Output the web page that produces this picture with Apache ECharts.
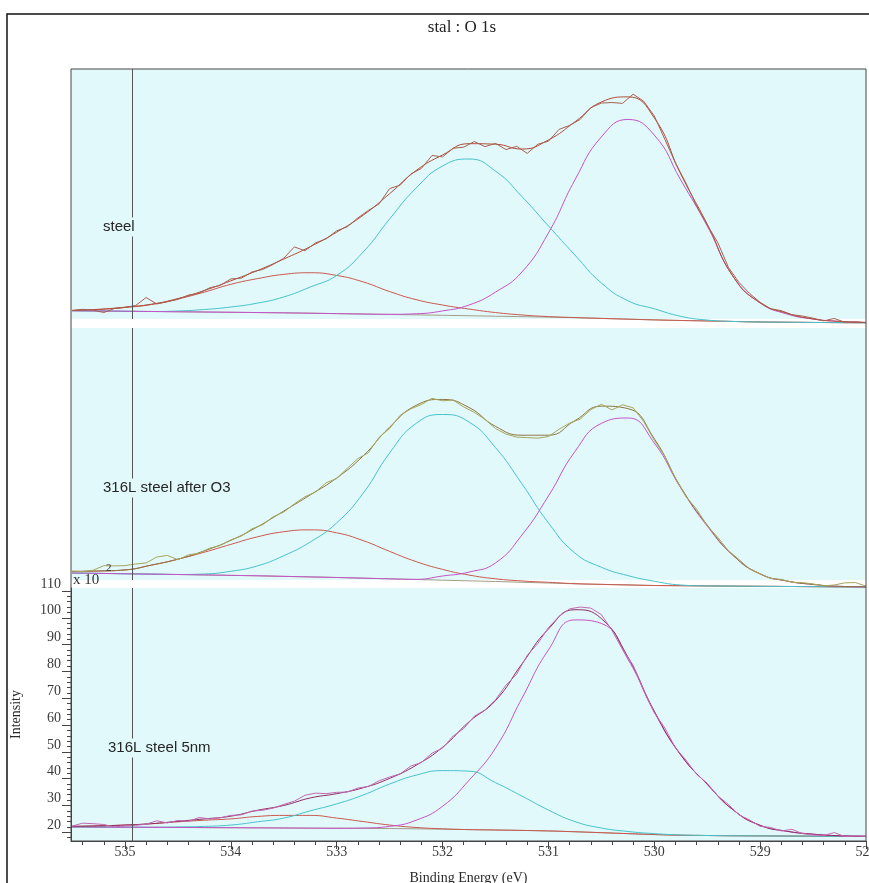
<!DOCTYPE html>
<html>
<head>
<meta charset="utf-8">
<title>stal : O 1s</title>
<script src="https://cdn.jsdelivr.net/npm/echarts@6.0.0/dist/echarts.min.js"></script>
<style>
  html, body { margin: 0; padding: 0; background: #fff; }
  #xps { width: 869px; height: 883px; }
</style>
</head>
<body>
<div id="xps"></div>
<script>
// binding energy grids (eV)
const rawBE = [535.5, 535.4, 535.3, 535.2, 535.1, 535.0, 534.9, 534.8, 534.7, 534.6,
  534.5, 534.4, 534.3, 534.2, 534.1, 534.0, 533.9, 533.8, 533.7, 533.6,
  533.5, 533.4, 533.3, 533.2, 533.1, 533.0, 532.9, 532.8, 532.7, 532.6,
  532.5, 532.4, 532.3, 532.2, 532.1, 532.0, 531.9, 531.8, 531.7, 531.6,
  531.5, 531.4, 531.3, 531.2, 531.1, 531.0, 530.9, 530.8, 530.7, 530.6,
  530.5, 530.4, 530.3, 530.2, 530.1, 530.0, 529.9, 529.8, 529.7, 529.6,
  529.5, 529.4, 529.3, 529.2, 529.1, 529.0, 528.9, 528.8, 528.7, 528.6,
  528.5, 528.4, 528.3, 528.2, 528.1, 528.0];
const fitBE = [535.5, 535.25, 535.0, 534.75, 534.5, 534.25, 534.0, 533.75, 533.5, 533.25,
  533.0, 532.75, 532.5, 532.25, 532.0, 531.75, 531.5, 531.25, 531.0, 530.75,
  530.5, 530.25, 530.0, 529.75, 529.5, 529.25, 529.0, 528.75, 528.5, 528.25, 528.0];

// steel (top panel)
const steelRaw = [3.2, 3.6, 3.3, 2.4, 3.9, 4.3, 5.0, 8.0, 5.6, 6.4,
  7.3, 8.9, 9.6, 11.6, 12.5, 14.9, 15.2, 17.5, 18.4, 20.3,
  22.6, 26.8, 25.4, 28.3, 29.8, 32.8, 34.3, 37.6, 40.4, 42.8,
  48.5, 49.8, 53.9, 56.0, 60.8, 60.3, 63.5, 63.9, 66.0, 64.1,
  65.3, 63.0, 64.2, 61.6, 65.0, 66.1, 70.5, 72.0, 74.2, 78.6,
  80.3, 80.5, 80.2, 83.6, 81.0, 75.5, 66.8, 58.0, 50.5, 42.0,
  35.0, 28.4, 19.2, 13.6, 9.5, 6.2, 3.8, 3.1, 1.6, 1.1,
  0.3, -0.7, 0.2, -1.2, -1.0, -1.3];
const steelFit = [3.16, 3.6, 4.4, 5.5, 7.6, 10.6, 14.2, 18.0, 22.3, 26.9,
  32.3, 38.6, 46.6, 55.2, 61.0, 65.2, 65.0, 63.2, 66.6, 73.3,
  80.7, 82.6, 74.8, 53.9, 35.3, 15.5, 6.0, 2.2, 0.0, -0.9, -1.3];
const steelPk1 = [3.16, 3.53, 4.28, 5.39, 7.44, 10.0, 12.9, 15.0, 16.6, 17.2,
  16.2, 13.8, 10.2, 7.2, 5.2, 3.7, 2.4, 1.5, 0.9, 0.55,
  0.22, -0.06, -0.33, -0.55, -0.73, -0.92, -1.1, -1.2, -1.28, -1.35, -1.4];
const steelPk2 = [3.07, 2.98, 2.88, 2.79, 2.98, 3.53, 4.46, 5.9, 8.2, 11.9,
  16.2, 24.9, 37.2, 48.7, 56.9, 59.5, 55.0, 45.5, 34.6, 23.8,
  13.4, 6.8, 3.8, 1.0, -0.4, -0.92, -1.1, -1.2, -1.28, -1.35, -1.4];
const steelPk3 = [3.07, 2.98, 2.88, 2.79, 2.69, 2.6, 2.5, 2.4, 2.29, 2.15,
  2.0, 1.85, 1.75, 1.95, 3.0, 5.2, 10.0, 17.5, 32.0, 51.7,
  67.7, 74.2, 68.4, 51.7, 34.6, 15.5, 6.0, 1.9, 0.0, -0.9, -1.3];
const steelBg = [3.07, 2.98, 2.88, 2.79, 2.69, 2.6, 2.5, 2.4, 2.29, 2.15,
  2.0, 1.85, 1.69, 1.54, 1.38, 1.21, 1.04, 0.87, 0.7, 0.47,
  0.22, -0.06, -0.33, -0.55, -0.73, -0.92, -1.1, -1.2, -1.28, -1.35, -1.4];

// 316L steel after O3 (middle panel)
const o3Raw = [2.6, 2.4, 2.9, 4.6, 4.5, 4.6, 5.2, 5.6, 7.8, 8.4,
  6.8, 8.6, 9.2, 11.1, 12.1, 14.2, 15.6, 18.3, 19.8, 22.8,
  24.5, 27.6, 30.2, 32.0, 35.4, 37.0, 40.8, 44.4, 46.6, 52.3,
  55.6, 60.5, 62.9, 64.5, 66.8, 65.9, 66.2, 63.6, 61.6, 59.0,
  55.6, 53.5, 52.4, 52.2, 52.0, 52.6, 55.3, 57.6, 59.1, 62.6,
  64.6, 62.5, 64.4, 63.3, 58.2, 51.2, 45.3, 37.0, 30.2, 25.6,
  19.4, 15.1, 10.2, 6.9, 3.4, 1.6, -0.2, -0.5, -1.6, -1.7,
  -2.2, -2.9, -2.6, -1.8, -1.7, -3.0];
const o3Fit = [2.42, 2.6, 3.0, 4.8, 7.0, 10.1, 14.0, 19.0, 24.9, 30.9,
  37.2, 45.4, 56.1, 64.2, 66.4, 63.4, 56.4, 53.1, 53.1, 58.5,
  63.9, 63.0, 51.8, 33.8, 19.7, 8.2, 1.5, -1.1, -2.4, -3.1, -3.24];
const o3Pk1 = [2.42, 2.6, 3.0, 4.8, 7.0, 9.6, 12.5, 15.3, 17.2, 17.9,
  16.8, 13.9, 9.9, 6.1, 3.2, 1.1, -0.3, -1.1, -1.6, -2.1,
  -2.37, -2.58, -2.79, -2.87, -2.95, -3.02, -3.09, -3.15, -3.22, -3.29, -3.35];
const o3Pk2 = [1.84, 1.71, 1.58, 1.44, 1.3, 1.5, 2.5, 4.5, 8.3, 13.4,
  20.5, 31.5, 46.5, 57.5, 60.8, 58.0, 48.5, 35.0, 20.5, 9.3,
  4.0, 0.9, -1.2, -2.6, -2.95, -3.02, -3.09, -3.15, -3.22, -3.29, -3.35];
const o3Pk3 = [1.84, 1.71, 1.58, 1.44, 1.3, 1.14, 0.98, 0.82, 0.61, 0.4,
  0.19, -0.06, -0.31, -0.5, 0.74, 2.2, 5.6, 16.0, 30.5, 47.0,
  57.5, 59.5, 50.2, 33.5, 19.3, 8.2, 1.5, -1.1, -2.4, -3.1, -3.3];
const o3Bg = [1.84, 1.71, 1.58, 1.44, 1.3, 1.14, 0.98, 0.82, 0.61, 0.4,
  0.19, -0.06, -0.31, -0.56, -0.81, -1.06, -1.3, -1.59, -1.87, -2.16,
  -2.37, -2.58, -2.79, -2.87, -2.95, -3.02, -3.09, -3.15, -3.22, -3.29, -3.35];

// 316L steel 5nm (bottom panel, x 10^2)
const nmRaw = [22.3, 23.4, 23.2, 22.9, 22.0, 22.4, 22.6, 23.0, 24.3, 23.5,
  24.4, 24.1, 25.5, 25.0, 25.4, 26.3, 26.5, 27.9, 28.2, 29.0,
  30.4, 31.6, 33.8, 34.6, 34.4, 34.9, 35.0, 36.5, 37.1, 39.2,
  40.6, 41.8, 44.7, 46.0, 49.5, 51.4, 55.9, 58.7, 63.3, 65.6,
  69.4, 74.9, 79.0, 86.0, 90.4, 96.3, 100.5, 103.3, 104.0, 103.6,
  101.2, 95.3, 88.2, 82.3, 73.0, 64.6, 58.9, 51.5, 46.9, 41.6,
  38.3, 33.6, 30.4, 26.5, 24.6, 22.2, 21.8, 20.5, 21.1, 19.5,
  19.0, 18.8, 19.9, 18.4, 18.6, 18.5];
const nmFit = [22.2, 22.4, 22.7, 23.2, 24.1, 25.0, 26.0, 28.2, 30.0, 32.8,
  34.4, 36.6, 40.1, 45.0, 51.7, 61.2, 69.1, 82.8, 95.8, 103.0,
  99.7, 85.4, 65.2, 48.9, 37.9, 28.2, 22.6, 20.4, 19.3, 18.7, 18.5];
const nmPk1 = [22.2, 22.4, 22.7, 23.2, 23.9, 24.5, 25.0, 25.9, 26.3, 26.3,
  25.3, 24.0, 22.7, 21.8, 21.3, 21.0, 20.85, 20.7, 20.5, 20.2,
  19.85, 19.5, 19.15, 18.9, 18.8, 18.7, 18.65, 18.6, 18.55, 18.5, 18.5];
const nmPk2 = [22.0, 21.95, 21.9, 21.85, 22.0, 22.2, 22.7, 23.9, 25.3, 28.0,
  30.6, 33.9, 38.0, 41.3, 43.0, 42.8, 38.5, 33.5, 28.3, 24.0,
  21.6, 20.3, 19.5, 19.0, 18.8, 18.7, 18.65, 18.6, 18.55, 18.5, 18.5];
const nmPk3 = [22.0, 21.95, 21.9, 21.85, 21.8, 21.75, 21.7, 21.65, 21.6, 21.55,
  21.5, 21.6, 22.2, 24.5, 29.7, 39.4, 51.4, 70.0, 88.0, 99.2,
  97.9, 84.6, 64.8, 48.8, 37.9, 28.2, 22.6, 20.4, 19.3, 18.7, 18.5];
const nmBg = [22.0, 21.95, 21.9, 21.85, 21.8, 21.75, 21.7, 21.65, 21.6, 21.55,
  21.5, 21.45, 21.4, 21.3, 21.15, 21.0, 20.85, 20.7, 20.5, 20.2,
  19.85, 19.5, 19.15, 18.9, 18.8, 18.7, 18.65, 18.6, 18.55, 18.5, 18.5];

// ticks
const beTicks = [528, 529, 530, 531, 532, 533, 534, 535];
const beMinor = [528.2, 528.4, 528.6, 528.8, 529.2, 529.4, 529.6, 529.8,
  530.2, 530.4, 530.6, 530.8, 531.2, 531.4, 531.6, 531.8,
  532.2, 532.4, 532.6, 532.8, 533.2, 533.4, 533.6, 533.8,
  534.2, 534.4, 534.6, 534.8, 535.2, 535.4];
const intTicks = [20, 30, 40, 50, 60, 70, 80, 90, 100, 110];
const intMinor = [18, 22, 24, 26, 28, 32, 34, 36, 38, 42, 44, 46, 48, 52, 54, 56, 58,
  62, 64, 66, 68, 72, 74, 76, 78, 82, 84, 86, 88, 92, 94, 96, 98, 102, 104, 106, 108];
const markerBE = 534.93;

const CYAN_BG = '#e2f9fb';
const AXIS = '#454545';
const SERIF = '"Liberation Serif", "DejaVu Serif", serif';
const SANS = '"Liberation Sans", Arial, sans-serif';

function zip(xs, ys) {
  return xs.map(function (x, i) { return [x, ys[i]]; });
}

function curve(xs, ys, idx, color, smooth) {
  return {
    type: 'line',
    xAxisIndex: idx,
    yAxisIndex: idx,
    data: zip(xs, ys),
    symbol: 'none',
    smooth: smooth,
    clip: false,
    silent: true,
    lineStyle: { color: color, width: 1 },
  };
}

function panel(idx, raw, fit, pk1, pk2, pk3, bg, rawColor, fitColor) {
  var base = curve(fitBE, bg, idx, '#a39d86', false);
  base.markLine = {
    silent: true,
    symbol: ['none', 'none'],
    label: { show: false },
    lineStyle: { color: '#555', width: 1, type: 'solid' },
    data: [{ xAxis: markerBE }],
  };
  return [
    base,
    curve(fitBE, pk1, idx, '#c9584f', true),
    curve(fitBE, pk2, idx, '#46c3cb', true),
    curve(fitBE, pk3, idx, '#c552c8', true),
    curve(fitBE, fit, idx, fitColor, true),
    curve(rawBE, raw, idx, rawColor, false),
  ];
}

function hiddenX(grid) {
  return { type: 'value', gridIndex: grid, inverse: true, min: 528, max: 535.51, show: false };
}
function hiddenY(grid, min, max) {
  return { type: 'value', gridIndex: grid, min: min, max: max, show: false };
}

function labelBox(text, x, y) {
  return {
    type: 'text', x: x, y: y, z: 100, silent: true,
    style: {
      text: text, fill: '#262626', fontSize: 15, fontFamily: SANS,
      align: 'left', verticalAlign: 'middle',
      backgroundColor: CYAN_BG, padding: [2, 2],
    },
  };
}

function box(top, height, extra) {
  return Object.assign({
    left: 71, right: 3, top: top, height: height, show: true,
    backgroundColor: CYAN_BG, borderWidth: 0, outerBoundsMode: 'none', containLabel: false,
  }, extra || {});
}

var chart = echarts.init(document.getElementById('xps'));
chart.setOption({
  animation: false,
  backgroundColor: '#fff',
  grid: [
    box(69, 250),
    box(328, 252),
    box(588, 253),
    box(69, 772, { backgroundColor: 'transparent', borderColor: AXIS, borderWidth: 1, z: 5 }),
  ],
  xAxis: [
    hiddenX(0),
    hiddenX(1),
    {
      type: 'value', gridIndex: 2, position: 'bottom', inverse: true, min: 528, max: 535.51,
      axisLine: { show: true, lineStyle: { color: AXIS } },
      axisTick: { show: true, customValues: beTicks, length: 8, lineStyle: { color: AXIS } },
      axisLabel: { customValues: beTicks, margin: 4, color: '#3a3a3a', fontFamily: SERIF, fontSize: 14,
        alignMinLabel: 'center', alignMaxLabel: 'center' },
      splitLine: { show: false },
      name: 'Binding Energy (eV)', nameLocation: 'middle', nameGap: 30,
      nameTextStyle: { color: '#2a2a2a', fontFamily: SERIF, fontSize: 14 },
    },
    {
      type: 'value', gridIndex: 2, position: 'bottom', inverse: true, min: 528, max: 535.51,
      axisLine: { show: false },
      axisTick: { show: true, customValues: beMinor, length: 4, lineStyle: { color: AXIS } },
      axisLabel: { show: false },
      splitLine: { show: false },
    },
    hiddenX(3),
  ],
  yAxis: [
    hiddenY(0, 0, 92.97),
    hiddenY(1, -0.744, 92.97),
    {
      type: 'value', gridIndex: 2, position: 'left', min: 16.75, max: 111.1,
      axisLine: { show: true, lineStyle: { color: AXIS } },
      axisTick: { show: true, customValues: intTicks, length: 9, lineStyle: { color: AXIS } },
      axisLabel: { customValues: intTicks, margin: 10, color: '#3a3a3a', fontFamily: SERIF,
        fontSize: 14, verticalAlign: 'bottom', lineHeight: 14 },
      splitLine: { show: false },
      name: 'Intensity', nameLocation: 'middle', nameGap: 48,
      nameTextStyle: { color: '#2a2a2a', fontFamily: SERIF, fontSize: 14 },
    },
    {
      type: 'value', gridIndex: 2, position: 'left', min: 16.75, max: 111.1,
      axisLine: { show: false },
      axisTick: { show: true, customValues: intMinor, length: 4, lineStyle: { color: AXIS } },
      axisLabel: { show: false },
      splitLine: { show: false },
    },
    hiddenY(3, 0, 1),
  ],
  graphic: [
    { type: 'rect', silent: true, z: 100, shape: { x: 7, y: 14, width: 880, height: 890 },
      style: { fill: 'none', stroke: '#111', lineWidth: 1.5 } },
    { type: 'text', x: 462, y: 28, z: 100, silent: true,
      style: { text: 'stal : O 1s', fill: '#222', fontSize: 17, fontFamily: SERIF,
        align: 'center', verticalAlign: 'middle' } },
    labelBox('steel', 101, 227),
    labelBox('316L steel after O3', 101, 488),
    labelBox('316L steel 5nm', 106, 748),
    { type: 'text', x: 73, y: 580, z: 100, silent: true,
      style: { text: 'x 10', fill: '#333', fontSize: 15, fontFamily: SERIF,
        align: 'left', verticalAlign: 'middle' } },
    { type: 'text', x: 106, y: 568, z: 100, silent: true,
      style: { text: '2', fill: '#333', fontSize: 11, fontFamily: SERIF,
        align: 'left', verticalAlign: 'middle' } },
  ],
  series: [].concat(
    panel(0, steelRaw, steelFit, steelPk1, steelPk2, steelPk3, steelBg, '#a8604e', '#b04a36'),
    panel(1, o3Raw, o3Fit, o3Pk1, o3Pk2, o3Pk3, o3Bg, '#a6a65c', '#8e7440'),
    panel(2, nmRaw, nmFit, nmPk1, nmPk2, nmPk3, nmBg, '#c468b4', '#8e2f5c')
  ),
});
</script>
</body>
</html>
